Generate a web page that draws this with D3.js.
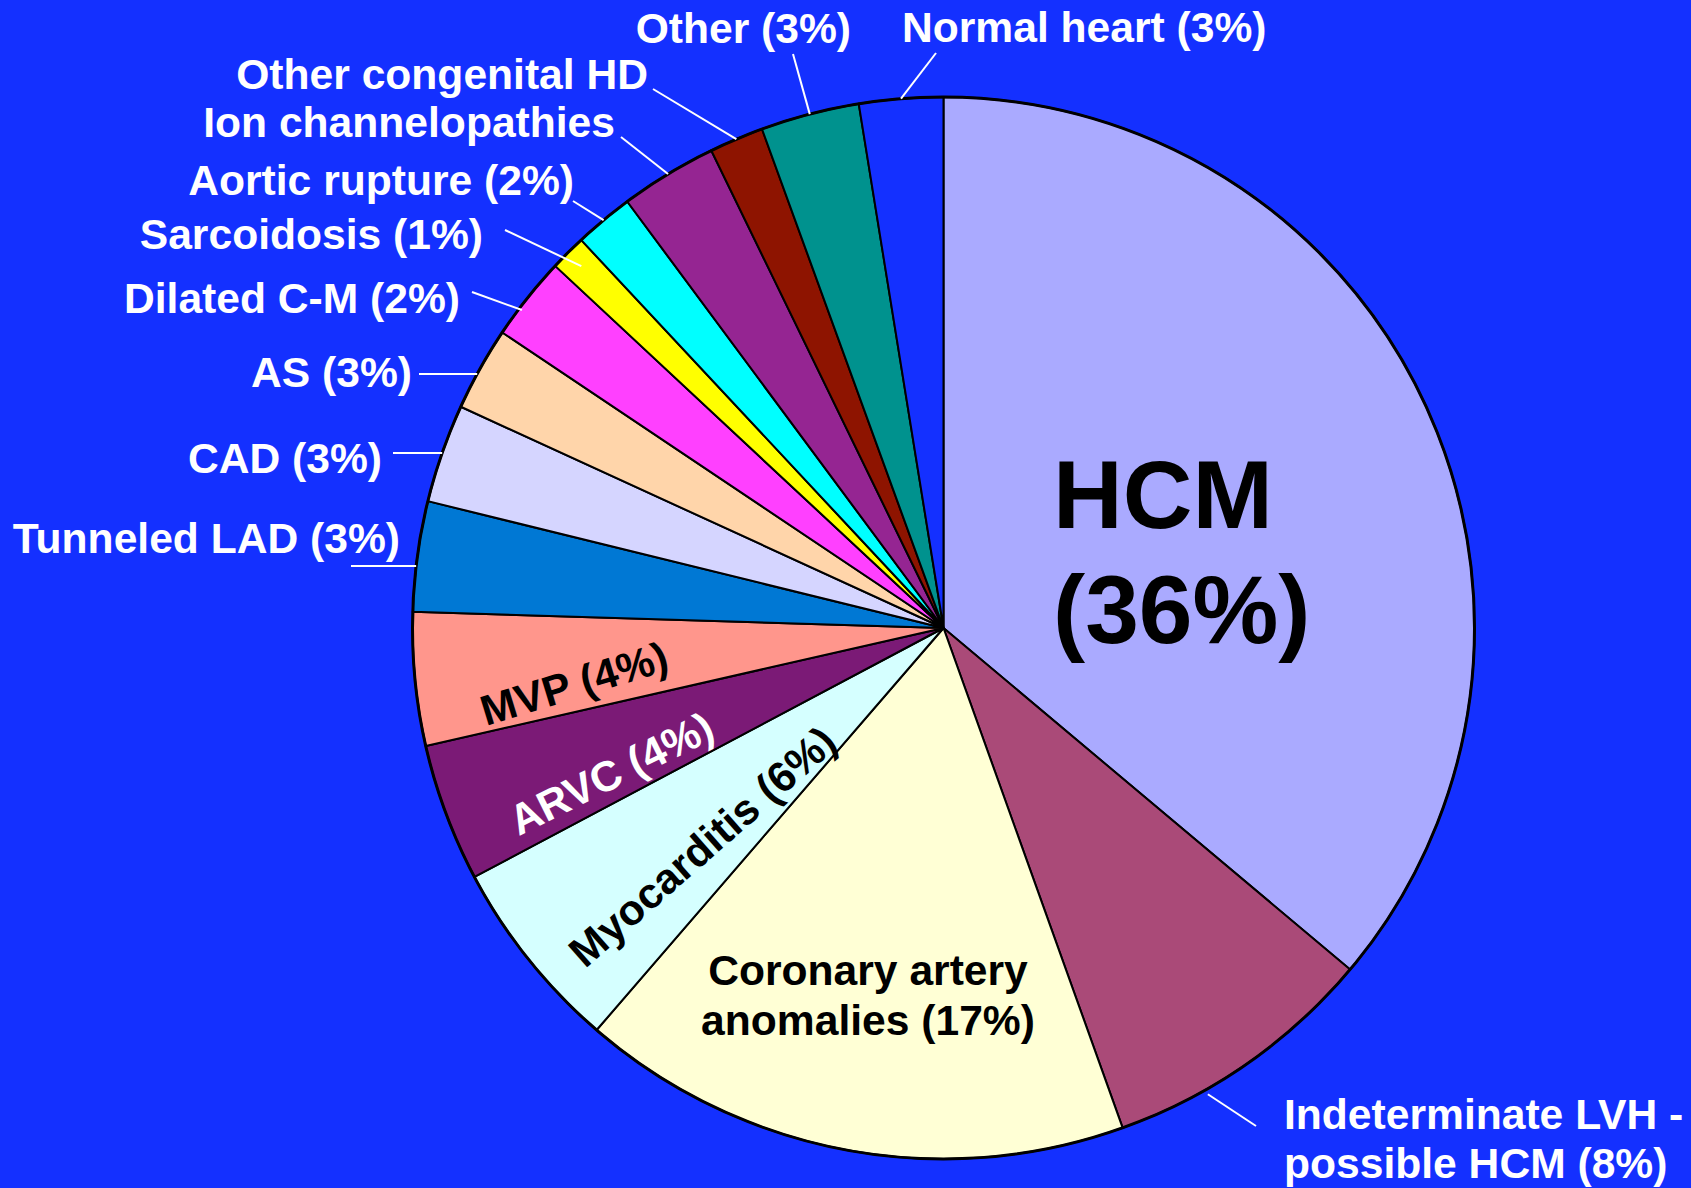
<!DOCTYPE html>
<html>
<head>
<meta charset="utf-8">
<script src="https://cdn.jsdelivr.net/npm/d3@7"></script>
<style>
  html, body { margin: 0; padding: 0; background: #1430ff; }
  svg { display: block; }
  text { font-family: "Liberation Sans", Arial, sans-serif; font-weight: bold; }
</style>
</head>
<body>
<svg id="chart" width="1691" height="1188"></svg>
<script>
// slices, clockwise from 12 o'clock
const categories = ["HCM", "Indeterminate LVH - possible HCM", "Coronary artery anomalies", "Myocarditis",
  "ARVC", "MVP", "Tunneled LAD", "CAD", "AS", "Dilated C-M", "Sarcoidosis", "Aortic rupture",
  "Ion channelopathies", "Other congenital HD", "Other", "Normal heart"];
const shares = [36.1, 8.4, 16.8, 5.9, 4.2, 4.05, 3.35, 3.0, 2.55, 2.55, 1.1, 1.8, 2.95, 1.65, 3.0, 2.55];
const labelLines = [["HCM", "(36%)"], ["Indeterminate LVH -", "possible HCM (8%)"], ["Coronary artery", "anomalies (17%)"],
  ["Myocarditis (6%)"], ["ARVC (4%)"], ["MVP (4%)"], ["Tunneled LAD (3%)"], ["CAD (3%)"], ["AS (3%)"],
  ["Dilated C-M (2%)"], ["Sarcoidosis (1%)"], ["Aortic rupture (2%)"], ["Ion channelopathies"],
  ["Other congenital HD"], ["Other (3%)"], ["Normal heart (3%)"]];
const sliceColors = ["#aaaaff", "#aa4a78", "#ffffd5", "#d5ffff", "#7b1a76", "#ff968c", "#0078d4", "#d5d5ff",
  "#ffd5aa", "#ff40ff", "#ffff00", "#00ffff", "#952592", "#8e1400", "#00928e", "#1430ff"];

// label placement (page px); leader = outer end of the white pointer line
// flat: pointer is horizontal and meets the rim at the leader's height
const labelLayout = [
  {x: 1053, y: 528, anchor: "start", size: 96.5, lh: 115, fill: "#000"},
  {x: 1284, y: 1129, anchor: "start", size: 42.6, lh: 49, fill: "#fff", leader: [1256, 1126], at: 0.675, r: 536},
  {x: 868, y: 985, anchor: "middle", size: 42.6, lh: 50, fill: "#000"},
  {x: 702, y: 846, anchor: "middle", size: 42.6, rotate: -41.3, fill: "#000"},
  {x: 611, y: 773, anchor: "middle", size: 42.6, rotate: -26.5, fill: "#fff"},
  {x: 574, y: 683, anchor: "middle", size: 42.6, rotate: -17, fill: "#000"},
  {x: 400, y: 553, anchor: "end", size: 42.6, fill: "#fff", leader: [351, 566], flat: true},
  {x: 382, y: 473, anchor: "end", size: 42.6, fill: "#fff", leader: [393, 453], flat: true},
  {x: 412, y: 387, anchor: "end", size: 42.6, fill: "#fff", leader: [419, 374], flat: true},
  {x: 460, y: 313, anchor: "end", size: 42.6, fill: "#fff", leader: [472, 292], at: 0.35, r: 528},
  {x: 483, y: 249, anchor: "end", size: 42.6, fill: "#fff", leader: [505, 230], r: 512},
  {x: 574, y: 195, anchor: "end", size: 42.6, fill: "#fff", leader: [573, 201]},
  {x: 615, y: 137, anchor: "end", size: 42.6, fill: "#fff", leader: [621, 137]},
  {x: 648, y: 89, anchor: "end", size: 42.6, fill: "#fff", leader: [653, 89]},
  {x: 851, y: 43, anchor: "end", size: 42.6, fill: "#fff", leader: [793, 54]},
  {x: 902, y: 42, anchor: "start", size: 42.6, fill: "#fff", leader: [936, 53]}
];

const cx = 943.5, cy = 628, R = 531;
const svg = d3.select("#chart");

const pie = d3.pie().sort(null).value(d => d);
const arcs = pie(shares);
const arc = d3.arc().innerRadius(0).outerRadius(R);

const g = svg.append("g").attr("transform", `translate(${cx},${cy})`);

g.selectAll(".slice")
  .data(arcs)
  .enter().append("path")
  .attr("class", "slice")
  .attr("d", arc)
  .attr("fill", (d, i) => sliceColors[i])
  .attr("stroke", "#000")
  .attr("stroke-width", 2)
  .attr("stroke-linejoin", "round");

g.append("circle")
  .attr("r", R)
  .attr("fill", "none")
  .attr("stroke", "#000")
  .attr("stroke-width", 3);

// pointer lines from the rim out to the labels
function polar(a, r) {
  return [cx + r * Math.sin(a), cy - r * Math.cos(a)];
}
arcs.forEach((d, i) => {
  const lay = labelLayout[i];
  if (!lay.leader) return;
  let p;
  if (lay.flat) {
    const dy = lay.leader[1] - cy;
    p = [cx - Math.sqrt(R * R - dy * dy), lay.leader[1]];
  } else {
    const t = lay.at === undefined ? 0.5 : lay.at;
    const a = d.startAngle + (d.endAngle - d.startAngle) * t;
    p = polar(a, lay.r || R);
  }
  svg.append("line")
    .attr("x1", p[0]).attr("y1", p[1])
    .attr("x2", lay.leader[0]).attr("y2", lay.leader[1])
    .attr("stroke", "#fff")
    .attr("stroke-width", 2);
});

// labels
labelLines.forEach((lines, i) => {
  const lay = labelLayout[i];
  const t = svg.append("text")
    .attr("text-anchor", lay.anchor)
    .attr("fill", lay.fill)
    .style("font-size", lay.size + "px");
  if (lay.rotate !== undefined) {
    t.attr("transform", `translate(${lay.x},${lay.y}) rotate(${lay.rotate})`)
      .attr("dy", "0.36em")
      .text(lines[0]);
  } else {
    lines.forEach((s, k) => {
      t.append("tspan")
        .attr("x", lay.x)
        .attr("y", lay.y + k * (lay.lh || 0))
        .text(s);
    });
  }
});
</script>
</body>
</html>
